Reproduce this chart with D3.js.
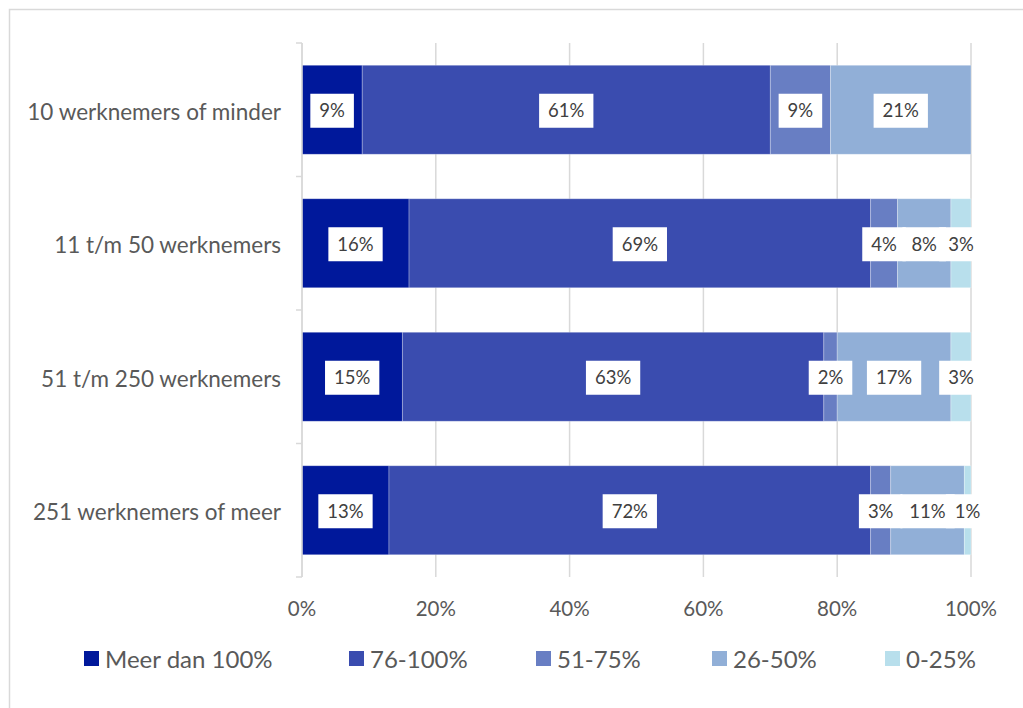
<!DOCTYPE html>
<html><head><meta charset="utf-8">
<script src="https://cdn.jsdelivr.net/npm/d3@7"></script>
<style>body{margin:0;background:#fff}svg{display:block}</style>
</head><body><svg id="c" width="1023" height="708"></svg>
<script>
const categories = ["10 werknemers of minder","11 t/m 50 werknemers","51 t/m 250 werknemers","251 werknemers of meer"];
const seriesNames = ["Meer dan 100%","76-100%","51-75%","26-50%","0-25%"];
const meerDan100 = [9,16,15,13];
const p76_100 = [61,69,63,72];
const p51_75 = [9,4,2,3];
const p26_50 = [21,8,17,11];
const p0_25 = [0,3,3,1];
const xTicks = [0,20,40,60,80,100];
const colors = ["#00189b","#3a4caf","#687ec3","#91afd7","#b8dfec"];

const seriesValues = [meerDan100,p76_100,p51_75,p26_50,p0_25];
const font = "Lato, 'Open Sans', sans-serif";
const svg = d3.select("#c");
const W=1023,H=708;
svg.append("rect").attr("x",9.5).attr("y",9.5).attr("width",W+10).attr("height",H+10)
  .attr("fill","#fff").attr("stroke","#d9d9d9").attr("stroke-width",1.5);

const L=302,R=971,T=43,B=577;
const x = d3.scaleLinear().domain([0,100]).range([L,R]);
const y = d3.scaleBand().domain(categories).range([T,B]).paddingInner(1/3).paddingOuter(1/6);

const g = svg.append("g");
g.selectAll("line.grid").data(xTicks).join("line")
  .attr("x1",d=>x(d)).attr("x2",d=>x(d)).attr("y1",T).attr("y2",B)
  .attr("stroke","#d9d9d9").attr("stroke-width",1.5);
const bounds = d3.range(categories.length+1).map(i=>T+i*(B-T)/categories.length);
g.selectAll("line.yt").data(bounds).join("line")
  .attr("x1",L-6).attr("x2",L).attr("y1",d=>d).attr("y2",d=>d)
  .attr("stroke","#d9d9d9").attr("stroke-width",1.5);

const rows = categories.map((c,i)=>{const o={cat:c}; seriesNames.forEach((s,j)=>o[s]=seriesValues[j][i]); return o;});
const stack = d3.stack().keys(seriesNames)(rows);
const bars = svg.append("g");
stack.forEach((layer,j)=>{
  bars.selectAll(null).data(layer).join("rect")
    .attr("x",d=>x(d[0])).attr("width",d=>x(d[1])-x(d[0]))
    .attr("y",d=>y(d.data.cat)).attr("height",y.bandwidth())
    .attr("fill",colors[j]).attr("stroke","#ffffff").attr("stroke-opacity",0.35).attr("stroke-width",0.8);
});

svg.append("line").attr("x1",L).attr("x2",L).attr("y1",T).attr("y2",B)
  .attr("stroke","#d9d9d9").attr("stroke-width",1.5);

svg.append("clipPath").attr("id","pc").append("rect").attr("x",L).attr("y",0).attr("width",R-L+1).attr("height",H);
const lab = svg.append("g");
const boxG = lab.append("g").attr("clip-path","url(#pc)");
const txtG = lab.append("g");
const fs=18.5;
stack.forEach((layer,j)=>{
  layer.forEach(d=>{
    const v=d[1]-d[0]; if(v<=0) return;
    const cx=(x(d[0])+x(d[1]))/2, cy=y(d.data.cat)+y.bandwidth()/2;
    const t=txtG.append("text").attr("x",cx).attr("y",cy+1).attr("dy","0.35em")
      .attr("text-anchor","middle").attr("font-family",font).attr("font-size",fs)
      .attr("fill","#404040").text(v+"%");
    const w=t.node().getComputedTextLength();
    boxG.append("rect").attr("x",cx-w/2-9).attr("y",cy-16).attr("width",w+18).attr("height",34).attr("fill","#fff");
  });
});

svg.append("g").selectAll("text").data(categories).join("text")
  .attr("x",281).attr("y",d=>y(d)+y.bandwidth()/2+2).attr("dy","0.35em")
  .attr("text-anchor","end").attr("font-family",font).attr("font-size",22.5).attr("fill","#595959").text(d=>d);

svg.append("g").selectAll("text").data(xTicks).join("text")
  .attr("x",d=>x(d)).attr("y",609).attr("dy","0.35em").attr("text-anchor","middle")
  .attr("font-family",font).attr("font-size",20.5).attr("fill","#595959").text(d=>d+"%");

const legX=[84,349,536,712,885];
const leg = svg.append("g");
seriesNames.forEach((s,j)=>{
  leg.append("rect").attr("x",legX[j]).attr("y",651).attr("width",15).attr("height",15).attr("fill",colors[j]);
  leg.append("text").attr("x",legX[j]+21).attr("y",660).attr("dy","0.35em")
    .attr("font-family",font).attr("font-size",24).attr("fill","#595959").text(s);
});
</script></body></html>
